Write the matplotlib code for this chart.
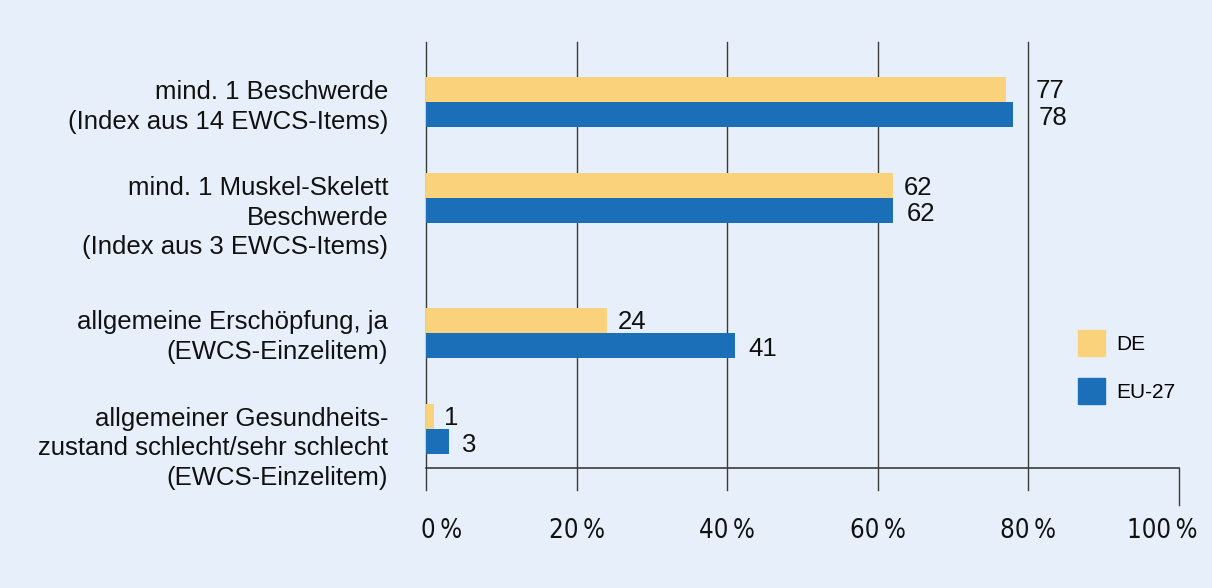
import matplotlib.pyplot as plt
import numpy as np
from matplotlib.patches import Patch
from matplotlib import font_manager

plt.rcParams["font.family"] = ["Liberation Sans", "DejaVu Sans"]

categories = [
    "mind. 1 Beschwerde\n(Index aus 14 EWCS-Items)",
    "mind. 1 Muskel-Skelett\nBeschwerde\n(Index aus 3 EWCS-Items)",
    "allgemeine Erschöpfung, ja\n(EWCS-Einzelitem)",
    "allgemeiner Gesundheits-\nzustand schlecht/sehr schlecht\n(EWCS-Einzelitem)",
]
de = [77, 62, 24, 1]
eu27 = [78, 62, 41, 3]
ticks = [0, 20, 40, 60, 80, 100]
tick_labels = ["0\u2009%", "20\u2009%", "40\u2009%", "60\u2009%", "80\u2009%", "100\u2009%"]

bg = "#E7F0FA"
c_de = "#FAD27B"
c_eu = "#1B6FB8"
line_c = "#3a3a3a"

# condensed face for the tick labels if one is installed
tick_font = dict(family="Liberation Sans", fontsize=17)
for f in font_manager.fontManager.ttflist:
    if f.name == "Liberation Sans Narrow":
        tick_font = dict(family="Liberation Sans Narrow", fontsize=20)
        break
else:
    for f in font_manager.fontManager.ttflist:
        if f.name == "DejaVu Sans" and "condensed" in str(f.stretch).lower():
            tick_font = dict(family="DejaVu Sans", fontstretch="condensed", fontsize=18.5)
            break

# group positions (layout, irregular because of label heights)
pos = np.array([0.0, 1.0, 2.4, 3.4])
h = 0.26


def label_x(v):
    # push value labels past a gridline they would touch
    x = v + 1.4
    for g in ticks[1:-1]:
        if v < g < v + 5:
            x = g + 1.0
    return x


fig = plt.figure(figsize=(12.12, 5.88), dpi=100, facecolor=bg)
ax = fig.add_axes([426 / 1212, 1 - 468 / 588, (1179 - 426) / 1212, 426 / 588])
ax.set_facecolor(bg)

ax.barh(pos - h / 2, de, height=h, color=c_de, zorder=3)
ax.barh(pos + h / 2, eu27, height=h, color=c_eu, zorder=3)

for p, v in zip(pos, de):
    ax.text(label_x(v), p - h / 2 + 0.02, str(v), va="center", ha="left", fontsize=18.5, color="#111")
for p, v in zip(pos, eu27):
    ax.text(label_x(v) + 0.4, p + h / 2 + 0.04, str(v), va="center", ha="left", fontsize=18.5, color="#111")

for p, lab in zip(pos, categories):
    ax.text(-5, p - 0.23, lab, ha="right", va="top", fontsize=18.5,
            linespacing=1.3, color="#111", clip_on=False)

ax.set_xlim(0, 100)
ax.set_ylim(3.81, -0.625)
ax.axis("off")

tr = ax.get_xaxis_transform()
for t in ticks[:-1]:
    ax.plot([t, t], [-0.052, 1.0], color=line_c, lw=1.0, transform=tr, clip_on=False, zorder=2)
ax.plot([100, 100], [-0.087, 0.0], color=line_c, lw=1.0, transform=tr, clip_on=False, zorder=2)
ax.plot([0, 100], [0, 0], color=line_c, lw=1.2, transform=tr, clip_on=False, zorder=2)

for i, (t, lab) in enumerate(zip(ticks, tick_labels)):
    ha, x = "center", t
    if i == 0:
        ha, x = "left", t - 0.7
    elif i == len(ticks) - 1:
        ha, x = "right", t + 2.4
    ax.text(x, -0.148, lab, ha=ha, va="center", transform=tr, clip_on=False,
            color="#111", **tick_font)

handles = [Patch(color=c_de, label="DE"), Patch(color=c_eu, label="EU-27")]
fig.legend(handles=handles, loc="upper left", bbox_to_anchor=(1059 / 1212, 1 - 311 / 588),
           frameon=False, fontsize=15, handlelength=1.3, handleheight=1.55,
           labelspacing=1.05, handletextpad=0.55)

fig.savefig("out.png", dpi=100, facecolor=bg)
